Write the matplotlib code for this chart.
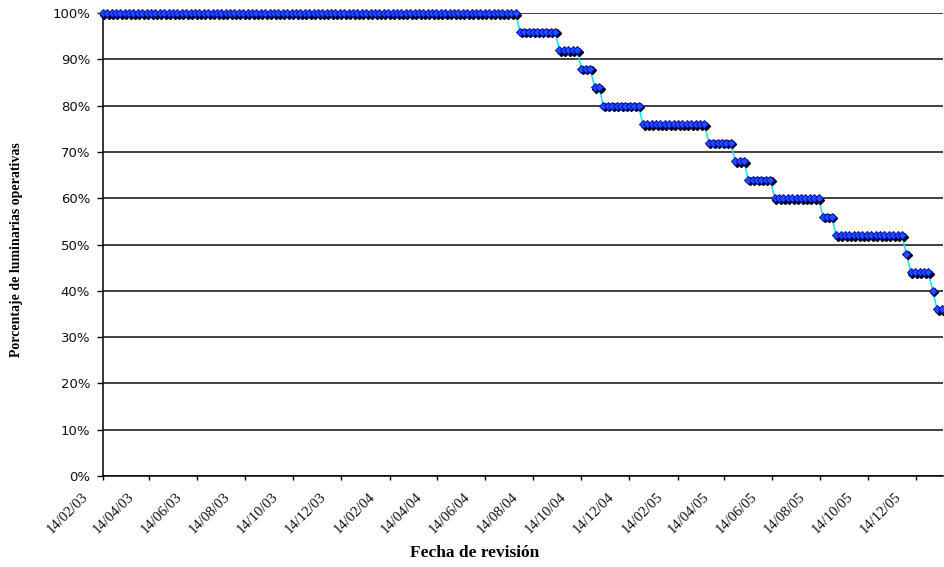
import numpy as np
import pandas as pd
import matplotlib
matplotlib.use("Agg")
import matplotlib.pyplot as plt
from matplotlib.ticker import PercentFormatter
from matplotlib.transforms import ScaledTranslation

# Share of operative luminaires at each plateau, and how many reviews stayed at it
levels = [1.00, 0.96, 0.92, 0.88, 0.84, 0.80, 0.76, 0.72, 0.68,
          0.64, 0.60, 0.56, 0.52, 0.48, 0.44, 0.40, 0.36]
reviews_per_level = [95, 9, 5, 3, 2, 9, 15, 6, 3, 6, 11, 3, 16, 1, 5, 1, 2]

first_review = "2003-02-14"
last_review = "2006-01-15"
axis_end = "2006-01-17"

tick_labels = ["14/02/03", "14/04/03", "14/06/03", "14/08/03", "14/10/03", "14/12/03",
               "14/02/04", "14/04/04", "14/06/04", "14/08/04", "14/10/04", "14/12/04",
               "14/02/05", "14/04/05", "14/06/05", "14/08/05", "14/10/05", "14/12/05"]
y_ticks = [0.0, 0.1, 0.2, 0.3, 0.4, 0.5, 0.6, 0.7, 0.8, 0.9, 1.0]

operative = np.repeat(levels, reviews_per_level)
review_dates = pd.date_range(first_review, last_review, periods=len(operative))
tick_dates = pd.to_datetime(tick_labels, format="%d/%m/%y")

fig = plt.figure(figsize=(9.45, 5.67), dpi=100)
ax = fig.add_axes([0.1087, 0.1605, 0.8893, 0.8165])

# connecting line
ax.plot(review_dates, operative, color="#00E8F0", lw=1.1, zorder=3, clip_on=False)
# drop shadow under each marker
shadow = ax.transData + ScaledTranslation(1.6 / 100, -1.6 / 100, fig.dpi_scale_trans)
ax.plot(review_dates, operative, ls="none", marker="D", ms=4.4, color="black",
        transform=shadow, zorder=4, clip_on=False)
ax.plot(review_dates, operative, ls="none", marker="D", ms=4.4, mfc="#2050FF",
        mec="#0010C0", mew=0.7, zorder=5, clip_on=False)

ax.set_xlim(pd.Timestamp(first_review), pd.Timestamp(axis_end))
ax.set_ylim(0, 1)

ax.set_yticks(y_ticks)
ax.yaxis.set_major_formatter(PercentFormatter(1.0, decimals=0))
ax.yaxis.grid(True, color="#202020", lw=1.2, zorder=1)
ax.set_axisbelow(True)

ax.set_xticks(tick_dates)
ax.set_xticklabels(tick_labels)

for side in ("top", "right"):
    ax.spines[side].set_visible(False)
for side in ("left", "bottom"):
    ax.spines[side].set_color("black")
    ax.spines[side].set_linewidth(1.1)

ax.tick_params(axis="y", direction="out", length=4, width=1, pad=5,
               labelsize=9.5, labelcolor="#111111")
ax.tick_params(axis="x", direction="out", length=3, width=1, pad=10.5,
               labelsize=10.5, labelcolor="#111111")
for lbl in ax.get_yticklabels():
    lbl.set_fontfamily("DejaVu Sans")

shift = ScaledTranslation(-17 / 100, 0, fig.dpi_scale_trans)
for lbl in ax.get_xticklabels():
    lbl.set_fontfamily("Liberation Serif")
    lbl.set_rotation(45)
    lbl.set_rotation_mode("anchor")
    lbl.set_horizontalalignment("right")
    lbl.set_verticalalignment("center")
    lbl.set_transform(lbl.get_transform() + shift)

fig.text(17 / 945, 0.559, "Porcentaje de luminarias operativas", rotation=90,
         ha="center", va="center", fontsize=10, fontweight="bold",
         family="Liberation Serif")
fig.text(475 / 945, 0.025, "Fecha de revisión", ha="center", va="center",
         fontsize=12.5, fontweight="bold", family="Liberation Serif")

fig.savefig("out.png", dpi=100)
